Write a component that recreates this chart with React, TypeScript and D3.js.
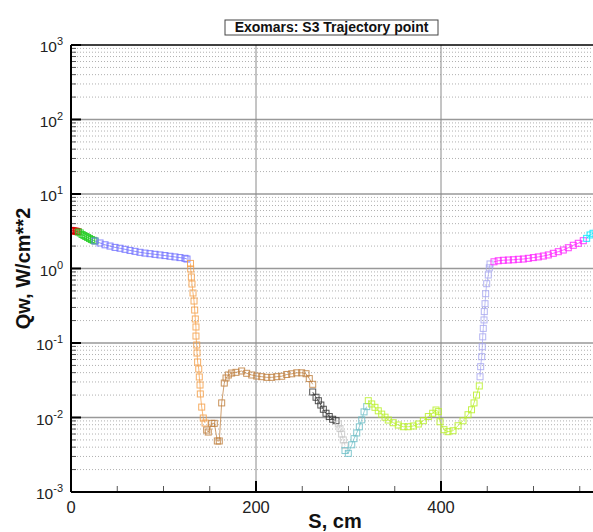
import React from "react";
import * as d3 from "d3";

type Pt = [number, number];

// Heat flux Qw (W/cm**2) along surface coordinate S (cm), one array per zone
const zoneNose: Pt[] = [
  [0, 3.25], [1.5, 3.22], [3, 3.2], [4.5, 3.18], [6, 3.15], [7.5, 3.12],
];
const zoneShoulder: Pt[] = [
  [8, 3.09], [10, 3.0], [12, 2.86], [14, 2.77], [16, 2.69], [18, 2.61],
  [20, 2.53], [22, 2.45], [24, 2.39], [26, 2.34],
];
const zoneForebody: Pt[] = [
  [25.9, 2.34], [31.4, 2.2], [36.8, 2.08], [42.2, 2.0], [47.6, 1.92],
  [53.0, 1.87], [58.4, 1.81], [63.8, 1.75], [69.2, 1.7], [74.6, 1.65],
  [80.0, 1.61], [85.4, 1.58], [90.8, 1.55], [96.2, 1.52], [101.6, 1.49],
  [107.0, 1.46], [112.4, 1.43], [117.8, 1.4], [123.2, 1.37], [125.4, 1.34],
];
const zoneCorner: Pt[] = [
  [129.2, 1.17], [129.4, 0.985], [130.1, 0.769], [130.8, 0.619], [131.9, 0.469],
  [133.0, 0.366], [133.7, 0.277], [134.4, 0.21], [135.1, 0.164], [135.1, 0.124],
  [135.9, 0.094], [136.2, 0.0734], [136.9, 0.0556], [138.1, 0.0448],
  [138.7, 0.035], [139.5, 0.0273], [139.8, 0.0207], [141.3, 0.0138],
  [143.0, 0.00984], [144.9, 0.00843],
];
const zoneBackshell: Pt[] = [
  [146.7, 0.00679], [148.4, 0.00638], [152.1, 0.00835], [154.9, 0.00835],
  [158.2, 0.00484], [160.3, 0.00484], [162.9, 0.0157], [165.7, 0.029],
  [167.6, 0.0339], [170.1, 0.0372], [173.7, 0.0395], [178.4, 0.0404],
  [184.5, 0.0421], [189.9, 0.0392], [195.4, 0.0372], [200.8, 0.036],
  [206.2, 0.0353], [211.6, 0.0346], [217.0, 0.0346], [222.4, 0.0353],
  [227.8, 0.0358], [233.2, 0.0378], [238.6, 0.0386], [244.0, 0.0398],
  [249.4, 0.0398], [254.1, 0.0387], [257.6, 0.0333], [261.3, 0.0279],
];
const zoneRearA: Pt[] = [
  [261.3, 0.022], [264.9, 0.0187], [267.4, 0.0168], [270.1, 0.0147],
  [272.8, 0.0129], [275.7, 0.0114], [279.2, 0.0103], [282.9, 0.00947],
  [286.5, 0.00906],
];
const zoneRearB: Pt[] = [
  [289.0, 0.0082], [290.8, 0.0071], [292.6, 0.006], [294.4, 0.005], [296.2, 0.0042],
];
const zoneRearC: Pt[] = [
  [296.2, 0.0036], [299.8, 0.0033], [303.5, 0.0043], [306.0, 0.0052],
  [308.9, 0.0062], [311.7, 0.0075], [314.3, 0.0093], [316.8, 0.0119],
  [319.7, 0.014],
];
const zoneRearD: Pt[] = [
  [321.4, 0.0168], [325.1, 0.0152], [328.6, 0.0137], [332.2, 0.0123],
  [335.9, 0.0111], [339.5, 0.0101], [343.0, 0.00925], [348.4, 0.00851],
  [353.8, 0.00793], [359.2, 0.00752], [364.6, 0.00752], [370.1, 0.00769],
  [375.5, 0.00818], [380.9, 0.00906], [386.3, 0.0103], [391.0, 0.0114],
  [394.6, 0.0126], [397.1, 0.012], [398.9, 0.00877], [403.2, 0.00686],
  [407.6, 0.00645], [413.0, 0.00664], [418.4, 0.00775], [423.8, 0.00904],
  [429.2, 0.0109], [433.0, 0.0127], [435.7, 0.0157], [438.4, 0.02], [441.4, 0.0265],
];
const zoneRearE: Pt[] = [
  [442.2, 0.0352], [442.9, 0.0481], [444.0, 0.0655], [444.6, 0.0891],
  [445.1, 0.121], [445.7, 0.157], [446.5, 0.204], [446.8, 0.264],
  [447.6, 0.337], [448.3, 0.459], [449.4, 0.625], [451.1, 0.818],
  [452.2, 1.02], [453.0, 1.15],
];
const zoneRearF: Pt[] = [
  [457.3, 1.23], [461.9, 1.27], [467.4, 1.29], [472.8, 1.3], [478.2, 1.31],
  [483.6, 1.33], [489.0, 1.34], [494.4, 1.37], [499.8, 1.4], [505.2, 1.43],
  [510.6, 1.47], [516.0, 1.52], [521.4, 1.6], [526.8, 1.68], [532.2, 1.77],
  [537.6, 1.9], [543.0, 2.05], [548.4, 2.18], [553.8, 2.36],
];
const zoneRearG: Pt[] = [
  [557.5, 2.54], [561.1, 2.82], [564.3, 2.97], [568.0, 3.1], [572.0, 3.25],
];

const zones: { data: Pt[]; color: string }[] = [
  { data: zoneNose, color: "#e00000" },
  { data: zoneShoulder, color: "#22cc22" },
  { data: zoneForebody, color: "#7070ff" },
  { data: zoneCorner, color: "#f5a04a" },
  { data: zoneBackshell, color: "#c08040" },
  { data: zoneRearA, color: "#333333" },
  { data: zoneRearB, color: "#c8c8c8" },
  { data: zoneRearC, color: "#70c0c8" },
  { data: zoneRearD, color: "#b8f028" },
  { data: zoneRearE, color: "#a8a8f0" },
  { data: zoneRearF, color: "#ff20ff" },
  { data: zoneRearG, color: "#00e8ff" },
];

const xMajorTicks = [0, 200, 400];
const xMinorTicks = [50, 100, 150, 250, 300, 350, 450, 500, 550];
const yExponents = [-3, -2, -1, 0, 1, 2, 3];

const W = 593;
const H = 532;
const left = 71;
const top = 45;
const bottom = 492;
const pxPerUnit = 0.925;
const xMax = 570;

export default function App() {
  const x = d3.scaleLinear().domain([0, xMax]).range([left, left + xMax * pxPerUnit]);
  const y = d3.scaleLog().domain([1e-3, 1e3]).range([bottom, top]);
  const right = x(xMax);

  const minorY: number[] = [];
  for (let e = -3; e < 3; e++) {
    for (let k = 2; k <= 9; k++) minorY.push(k * Math.pow(10, e));
  }

  const line = d3
    .line<Pt>()
    .x((d) => x(d[0]))
    .y((d) => y(d[1]));

  const font = "'Liberation Sans', Arial, sans-serif";
  const ms = 6;

  return (
    <svg
      width={W}
      height={H}
      style={{ position: "absolute", left: 0, top: 0, background: "#fff" }}
      fontFamily={font}
    >
      <defs>
        <clipPath id="plotClip">
          <rect x={left} y={top} width={right - left} height={bottom - top} />
        </clipPath>
      </defs>

      {/* minor dotted grid */}
      {minorY.map((v, i) => (
        <line
          key={"mg" + i}
          x1={left}
          x2={right}
          y1={y(v)}
          y2={y(v)}
          stroke="#b0b0b0"
          strokeWidth={1}
          strokeDasharray="1,2"
        />
      ))}
      {/* major grid */}
      {yExponents.slice(1, -1).map((e) => (
        <line
          key={"gy" + e}
          x1={left}
          x2={right}
          y1={y(Math.pow(10, e))}
          y2={y(Math.pow(10, e))}
          stroke="#999"
          strokeWidth={1.5}
        />
      ))}
      {xMajorTicks.slice(1).map((v) => (
        <line key={"gx" + v} x1={x(v)} x2={x(v)} y1={top} y2={bottom} stroke="#8a8a8a" strokeWidth={1} />
      ))}

      {/* y ticks */}
      {minorY.map((v, i) => (
        <line key={"ty" + i} x1={left} x2={left + 5} y1={y(v)} y2={y(v)} stroke="#555" strokeWidth={1} />
      ))}
      {yExponents.map((e) => (
        <line
          key={"tY" + e}
          x1={left}
          x2={left + 10}
          y1={y(Math.pow(10, e))}
          y2={y(Math.pow(10, e))}
          stroke="#000"
          strokeWidth={2}
        />
      ))}
      {/* x ticks */}
      {xMinorTicks.map((v) => (
        <line key={"tx" + v} x1={x(v)} x2={x(v)} y1={bottom} y2={bottom - 6} stroke="#555" strokeWidth={1} />
      ))}
      {xMajorTicks.map((v) => (
        <line key={"tX" + v} x1={x(v)} x2={x(v)} y1={bottom} y2={bottom - 11} stroke="#000" strokeWidth={2} />
      ))}

      {/* data */}
      <g clipPath="url(#plotClip)">
        {zones.map((z, i) => (
          <g key={"z" + i}>
            <path d={line(z.data) || ""} fill="none" stroke={z.color} strokeWidth={1} opacity={0.75} />
            {z.data.map((d, j) => (
              <rect
                key={j}
                x={x(d[0]) - ms / 2}
                y={y(d[1]) - ms / 2}
                width={ms}
                height={ms}
                fill="none"
                stroke={z.color}
                strokeWidth={1}
                opacity={0.85}
              />
            ))}
          </g>
        ))}
      </g>

      {/* frame */}
      <line x1={left} x2={right} y1={top} y2={top} stroke="#000" strokeWidth={1.5} />
      <line x1={left} x2={left} y1={top} y2={bottom} stroke="#000" strokeWidth={2} />
      <line x1={left} x2={right} y1={bottom} y2={bottom} stroke="#000" strokeWidth={2} />

      {/* tick labels */}
      {yExponents.map((e) => (
        <text key={"ly" + e} x={63} y={y(Math.pow(10, e)) + 7} textAnchor="end" fontSize={15.5} fill="#222">
          10
          <tspan dy={-7} fontSize={11}>
            {e}
          </tspan>
        </text>
      ))}
      {xMajorTicks.map((v) => (
        <text key={"lx" + v} x={x(v)} y={513} textAnchor="middle" fontSize={16.5} fill="#222">
          {v}
        </text>
      ))}

      {/* axis titles */}
      <text x={335} y={528} textAnchor="middle" fontSize={20} fontWeight="bold" fill="#111">
        S, cm
      </text>
      <text
        transform={`translate(30, ${(top + bottom) / 2}) rotate(-90)`}
        textAnchor="middle"
        fontSize={20}
        fontWeight="bold"
        fill="#111"
      >
        Qw, W/cm**2
      </text>

      {/* title */}
      <rect x={225} y={20} width={213} height={15} fill="#fff" stroke="#444" strokeWidth={1} />
      <text x={331.5} y={32} textAnchor="middle" fontSize={14} fontWeight="bold" fill="#111">
        Exomars: S3 Trajectory point
      </text>
    </svg>
  );
}
